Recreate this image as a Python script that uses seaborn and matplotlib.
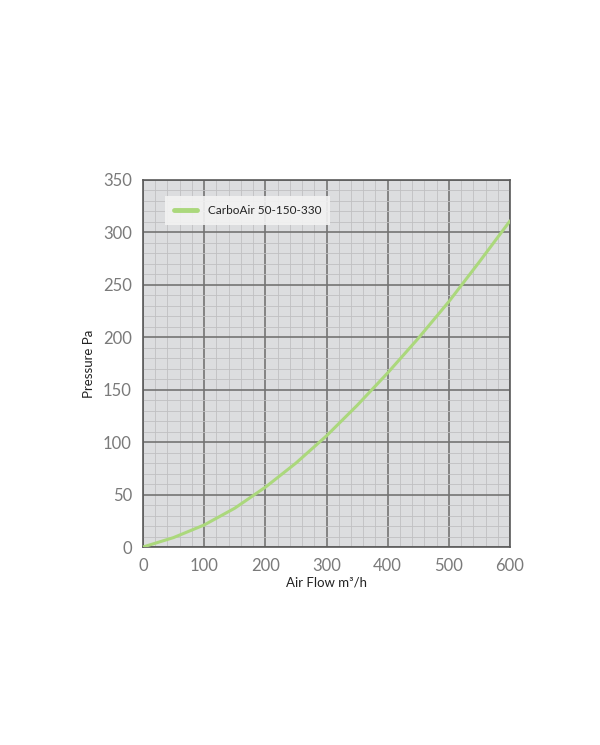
import numpy as np
import pandas as pd
import matplotlib
matplotlib.use("Agg")
import matplotlib.pyplot as plt
import seaborn as sns
from matplotlib.ticker import MultipleLocator

airflow = [0, 50, 100, 150, 200, 250, 300, 350, 400, 450, 500, 550, 600]
pressure = [0, 9, 21, 37, 57, 80, 106, 135, 166, 199, 234, 272, 311]
series_name = "CarboAir 50-150-330"
x_ticks = [0, 100, 200, 300, 400, 500, 600]
y_ticks = [0, 50, 100, 150, 200, 250, 300, 350]

df = pd.DataFrame({"Air Flow": airflow, "Pressure": pressure, "series": series_name})

sns.set_theme(style="white")
plt.rcParams['font.family'] = ['Lato', 'DejaVu Sans']

fig = plt.figure(figsize=(6.0, 7.45), dpi=100)
ax = fig.add_axes([143/600, 1 - 547/745, (510-143)/600, (547-180)/745])
ax.set_facecolor("#dcdddf")

sns.lineplot(data=df, x="Air Flow", y="Pressure", hue="series",
             palette=["#abd87c"], linewidth=2.2, ax=ax, zorder=5)

ax.set_xlim(0, 600)
ax.set_ylim(0, 350)
ax.set_xticks(x_ticks)
ax.set_yticks(y_ticks)
ax.xaxis.set_minor_locator(MultipleLocator(20))
ax.yaxis.set_minor_locator(MultipleLocator(10))
ax.grid(which="major", color="#747474", linewidth=1.2, zorder=1)
ax.grid(which="minor", color="#c0c0c2", linewidth=0.6, zorder=0)
ax.set_axisbelow(True)
ax.tick_params(which="both", length=0, labelsize=12, colors="#7a7a7a", pad=8)
for s in ax.spines.values():
    s.set_color("#5a5a5a")
    s.set_linewidth(1.2)

ax.set_xlabel("Air Flow m³/h", fontsize=9.5, color="#222222", labelpad=2)
ax.set_ylabel("Pressure Pa", fontsize=9.5, color="#222222", labelpad=6)

leg = ax.legend(loc="upper left", bbox_to_anchor=(0.06, 0.956), frameon=True,
                fontsize=8.5, handlelength=2.0, handletextpad=0.9,
                borderpad=0.75, borderaxespad=0, fancybox=False)
leg.get_frame().set_facecolor("#f3f3f3")
leg.get_frame().set_edgecolor("none")
leg.get_frame().set_alpha(0.9)
for line in leg.get_lines():
    line.set_linewidth(3.5)
for t in leg.get_texts():
    t.set_color("#222222")

fig.savefig("out.png", dpi=100, facecolor="white")
